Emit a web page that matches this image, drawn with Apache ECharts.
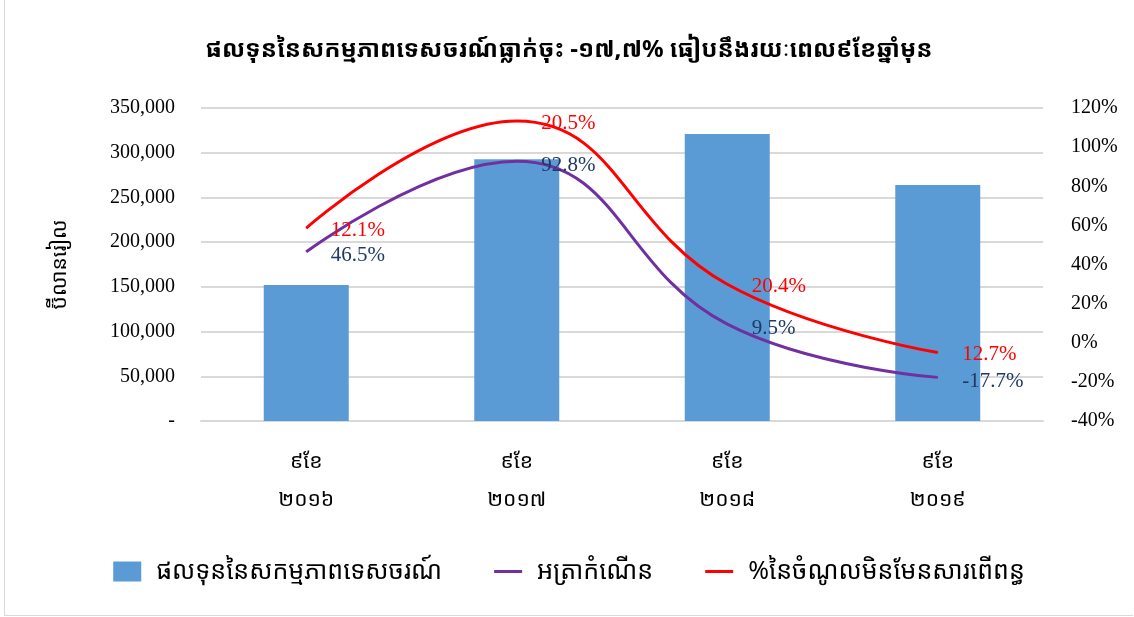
<!DOCTYPE html>
<html>
<head>
<meta charset="utf-8">
<script src="https://cdn.jsdelivr.net/npm/echarts@6/dist/echarts.min.js"></script>
<style>
html,body{margin:0;padding:0;background:#fff;}
#main{position:absolute;left:4px;top:0;width:1128px;height:615px;border-left:1px solid #d9d9d9;border-bottom:1px solid #d9d9d9;}
</style>
</head>
<body>
<div id="main"></div>
<script>
// ទិន្នន័យ
var categories = ['៩ខែ\n២០១៦', '៩ខែ\n២០១៧', '៩ខែ\n២០១៨', '៩ខែ\n២០១៩'];
var capitalValues = [152000, 292600, 320900, 264000];     // ផលទុន (ប៊ីលានរៀល)
var growthRates = [46.5, 92.8, 9.5, -17.7];               // អត្រាកំណើន %
var nonTaxShare = [12.1, 20.5, 20.4, 12.7];               // % នៃចំណូលមិនមែនសារពើពន្ធ (stacked on growth)
var leftTicks = [0, 50000, 100000, 150000, 200000, 250000, 300000, 350000];
var rightTicks = [-40, -20, 0, 20, 40, 60, 80, 100, 120];

var seriesNames = ['ផលទុននៃសកម្មភាពទេសចរណ៍', 'អត្រាកំណើន', '%នៃចំណូលមិនមែនសារពើពន្ធ'];
var khmerFont = '"Noto Sans Khmer","Khmer OS","Liberation Serif",serif';
var numFont = '"Liberation Serif","Times New Roman",serif';
var lineIcon = 'path://M0,0 L28,0 L28,3 L0,3 Z';

var chart = echarts.init(document.getElementById('main'));
var option = {
	animation: false,
	title: {
		text: 'ផលទុននៃសកម្មភាពទេសចរណ៍ធ្លាក់ចុះ -១៧,៧% ធៀបនឹងរយៈពេល៩ខែឆ្នាំមុន',
		left: 'center',
		top: 33,
		textStyle: {fontFamily: khmerFont, fontSize: 24, fontWeight: 'bold', color: '#000'}
	},
	legend: {
		data: [
			{name: seriesNames[0], icon: 'rect'},
			{name: seriesNames[1], icon: lineIcon},
			{name: seriesNames[2], icon: lineIcon}
		],
		bottom: 26,
		left: 'center',
		itemGap: 52,
		itemWidth: 28,
		itemHeight: 20,
		symbolKeepAspect: true,
		textStyle: {fontFamily: khmerFont, fontSize: 25, color: '#000', padding: [0, 0, 0, 10]}
	},
	grid: {left: 196, right: 90, top: 108, bottom: 194},
	xAxis: {
		type: 'category',
		data: categories,
		axisLine: {show: true, lineStyle: {color: '#d9d9d9', width: 2}},
		axisTick: {show: false},
		axisLabel: {fontFamily: khmerFont, fontSize: 21, color: '#000', margin: 22, lineHeight: 38}
	},
	yAxis: [
		{
			type: 'value',
			min: leftTicks[0],
			max: leftTicks[leftTicks.length - 1],
			interval: 50000,
			name: 'ប៊ីលានរៀល',
			nameLocation: 'middle',
			nameGap: 130,
			nameTextStyle: {fontFamily: khmerFont, fontSize: 21, color: '#000'},
			axisLine: {show: false},
			axisTick: {show: false},
			axisLabel: {
				fontFamily: numFont, fontSize: 20, color: '#000', margin: 26,
				formatter: function (v) { return v === 0 ? '-' : v.toLocaleString('en-US'); }
			},
			splitLine: {lineStyle: {color: '#d9d9d9', width: 2}}
		},
		{
			type: 'value',
			min: rightTicks[0],
			max: rightTicks[rightTicks.length - 1],
			interval: 20,
			axisLine: {show: false},
			axisTick: {show: false},
			axisLabel: {fontFamily: numFont, fontSize: 20, color: '#000', margin: 28, formatter: '{value}%'},
			splitLine: {show: false}
		}
	],
	series: [
		{
			name: seriesNames[0],
			type: 'bar',
			barWidth: 85,
			itemStyle: {color: '#5b9bd5'},
			data: capitalValues
		},
		{
			name: seriesNames[1],
			type: 'line',
			yAxisIndex: 1,
			smooth: 0.45,
			stack: 'rate',
			stackStrategy: 'all',
			symbol: 'circle',
			symbolSize: 1,
			showSymbol: true,
			lineStyle: {color: '#7030a0', width: 3},
			itemStyle: {color: '#7030a0'},
			label: {
				show: true, position: 'right', distance: 24, offset: [0, 4],
				fontFamily: numFont, fontSize: 21, color: '#1f3864',
				formatter: function (p) { return p.value.toFixed(1) + '%'; }
			},
			data: growthRates
		},
		{
			name: seriesNames[2],
			type: 'line',
			yAxisIndex: 1,
			smooth: 0.45,
			stack: 'rate',
			stackStrategy: 'all',
			symbol: 'circle',
			symbolSize: 1,
			showSymbol: true,
			lineStyle: {color: '#ff0000', width: 3},
			itemStyle: {color: '#ff0000'},
			label: {
				show: true, position: 'right', distance: 24, offset: [0, 2],
				fontFamily: numFont, fontSize: 21, color: '#ff0000',
				formatter: function (p) { return p.value.toFixed(1) + '%'; }
			},
			data: nonTaxShare
		}
	]
};
chart.setOption(option);
</script>
</body>
</html>
